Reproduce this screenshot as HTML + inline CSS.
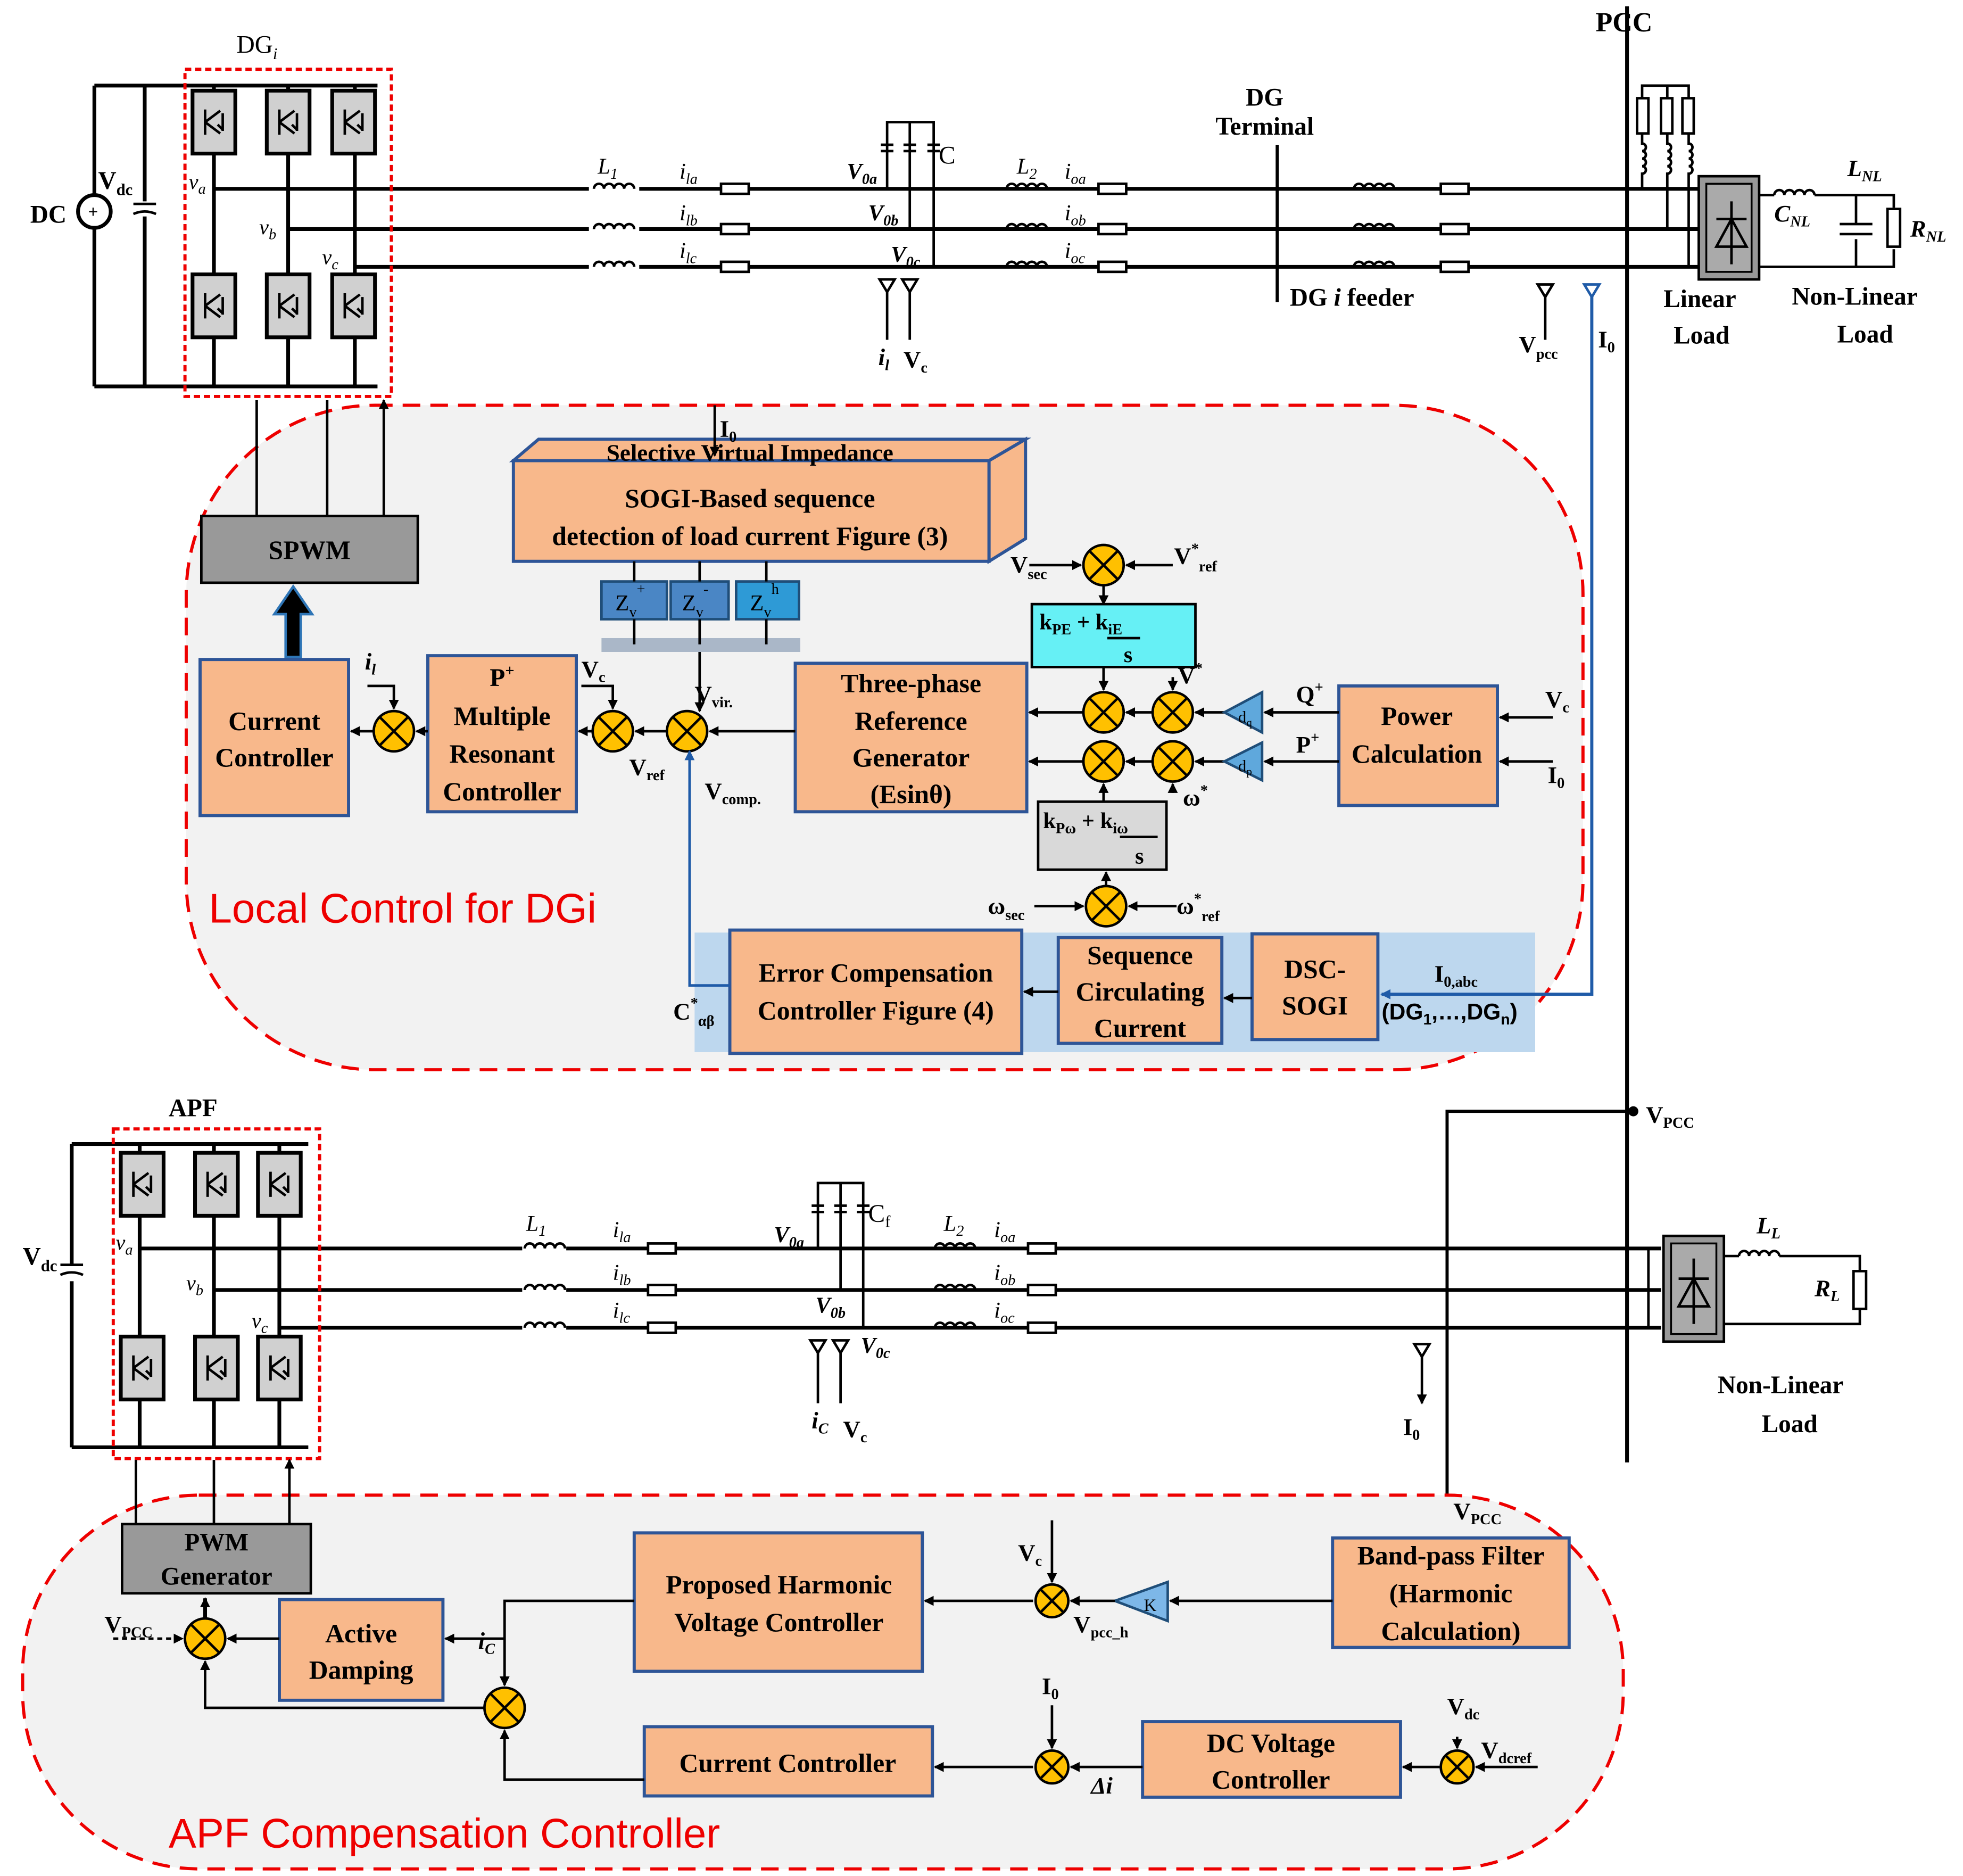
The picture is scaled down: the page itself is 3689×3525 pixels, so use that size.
<!DOCTYPE html>
<html><head><meta charset="utf-8"><style>html,body{margin:0;padding:0;background:#fff}svg{display:block}</style></head><body>
<svg width="3689" height="3525" viewBox="0 0 1560 1490.6" xmlns="http://www.w3.org/2000/svg" font-family="Liberation Serif, serif" font-weight="bold">
<defs>
<marker id="ar" markerWidth="8" markerHeight="8" refX="7" refY="4" orient="auto" markerUnits="userSpaceOnUse"><path d="M0,0 L8,4 L0,8 z" fill="#000"/></marker>
<marker id="arb" markerWidth="8" markerHeight="8" refX="7" refY="4" orient="auto" markerUnits="userSpaceOnUse"><path d="M0,0 L8,4 L0,8 z" fill="#1F5BA8"/></marker>
<g id="sw"><rect x="0" y="0" width="34" height="50" fill="#d0d0d0" stroke="#000" stroke-width="3"/><path d="M10,15 v20 M10,25 l12,-9 M10,25 l12,9 M24,18 v14 M20,27 l4,4" stroke="#000" stroke-width="2" fill="none"/></g>
<g id="ind"><path d="M0,0 a4,4 0 0 1 8,0 a4,4 0 0 1 8,0 a4,4 0 0 1 8,0 a4,4 0 0 1 8,0" fill="none" stroke="#000" stroke-width="2"/></g>
<g id="res"><rect x="0" y="-4" width="22" height="8" fill="#fff" stroke="#000" stroke-width="2"/></g>
<g id="sum"><circle r="16" fill="#FFC000" stroke="#000" stroke-width="2"/><path d="M-11,-11 L11,11 M11,-11 L-11,11" stroke="#000" stroke-width="2"/></g>
<g id="sums"><circle r="13" fill="#FFC000" stroke="#000" stroke-width="2"/><path d="M-9,-9 L9,9 M9,-9 L-9,9" stroke="#000" stroke-width="2"/></g>
<g id="sens"><path d="M-6,0 h12 l-6,10 z" fill="none" stroke="#000" stroke-width="2"/></g>
</defs>

<!-- ===== TOP POWER CIRCUIT ===== -->
<g stroke="#000" stroke-width="3" fill="none">
<path d="M75,68 H300 M75,307 H300 M75,68 V155 M75,181 V307 M115,68 V160 M115,172 V307"/>
<path d="M106,162 h18 M106,170 q9,-4 18,0" stroke-width="2"/>
<path d="M170,68 V307 M229,68 V307 M282,68 V307"/>
<path d="M170,150 H470 M229,182 H470 M282,212 H470"/>
<path d="M505,150 H1350 M505,182 H1350 M505,212 H1350"/>
</g>
<circle cx="75" cy="168" r="13" fill="#fff" stroke="#000" stroke-width="3"/>
<text x="70" y="173" font-size="14">+</text>
<text x="24" y="177" font-size="20">DC</text>
<text x="78" y="150" font-size="20">V<tspan font-size="13" dy="5">dc</tspan></text>
<rect x="147" y="55" width="164" height="260" fill="none" stroke="#e00" stroke-width="2.5" stroke-dasharray="5,3"/>
<text x="188" y="42" font-size="20" font-weight="normal">DG<tspan font-style="italic" font-size="13" dy="5">i</tspan></text>
<use href="#sw" x="153" y="72"/><use href="#sw" x="212" y="72"/><use href="#sw" x="264" y="72"/>
<use href="#sw" x="153" y="218"/><use href="#sw" x="212" y="218"/><use href="#sw" x="264" y="218"/>
<g font-size="17" font-weight="normal" font-style="italic"><text x="150" y="150">v<tspan font-size="12" dy="4">a</tspan></text><text x="206" y="186">v<tspan font-size="12" dy="4">b</tspan></text><text x="256" y="210">v<tspan font-size="12" dy="4">c</tspan></text></g>
<g fill="#fff">
<rect x="468" y="143" width="40" height="12" stroke="none"/><rect x="468" y="175" width="40" height="12" stroke="none"/><rect x="468" y="205" width="40" height="12" stroke="none"/>
</g>
<use href="#ind" x="472" y="150"/><use href="#ind" x="472" y="182"/><use href="#ind" x="472" y="212"/>
<use href="#res" x="573" y="150"/><use href="#res" x="573" y="182"/><use href="#res" x="573" y="212"/>
<use href="#ind" x="800" y="150"/><use href="#ind" x="800" y="182"/><use href="#ind" x="800" y="212"/>
<use href="#res" x="873" y="150"/><use href="#res" x="873" y="182"/><use href="#res" x="873" y="212"/>
<use href="#ind" x="1076" y="150"/><use href="#ind" x="1076" y="182"/><use href="#ind" x="1076" y="212"/>
<use href="#res" x="1145" y="150"/><use href="#res" x="1145" y="182"/><use href="#res" x="1145" y="212"/>
<g font-size="18" font-style="italic" font-weight="normal"><text x="475" y="138">L<tspan font-size="12" dy="4">1</tspan></text><text x="540" y="142">i<tspan font-size="12" dy="4">la</tspan></text><text x="540" y="175">i<tspan font-size="12" dy="4">lb</tspan></text><text x="540" y="205">i<tspan font-size="12" dy="4">lc</tspan></text>
<text x="808" y="138">L<tspan font-size="12" dy="4">2</tspan></text><text x="846" y="142">i<tspan font-size="12" dy="4">oa</tspan></text><text x="846" y="175">i<tspan font-size="12" dy="4">ob</tspan></text><text x="846" y="205">i<tspan font-size="12" dy="4">oc</tspan></text></g>
<g font-size="18" font-style="italic"><text x="673" y="142">V<tspan font-size="12" dy="4">0a</tspan></text><text x="690" y="175">V<tspan font-size="12" dy="4">0b</tspan></text><text x="708" y="208">V<tspan font-size="12" dy="4">0c</tspan></text></g>
<g stroke="#000" stroke-width="2" fill="none"><path d="M705,150 V97 H742 V212 M723,182 V97 M700,115 h10 M700,120 h10 M718,115 h10 M718,120 h10 M737,115 h10 M737,120 h10"/>
<path d="M705,230 V270 M723,230 V270"/></g>
<text x="746" y="130" font-size="20" font-weight="normal">C</text>
<use href="#sens" x="705" y="222"/><use href="#sens" x="723" y="222"/>
<text x="698" y="290" font-size="19" font-style="italic">i<tspan font-size="12" dy="4">l</tspan></text><text x="718" y="292" font-size="19">V<tspan font-size="12" dy="4">c</tspan></text>
<path d="M1015,115 V240" stroke="#000" stroke-width="2.5"/>
<text x="990" y="84" font-size="20">DG</text><text x="966" y="107" font-size="20">Terminal</text>
<text x="1025" y="243" font-size="20">DG <tspan font-style="italic">i</tspan> feeder</text>
<path d="M1293,5 V1162" stroke="#000" stroke-width="3"/>
<text x="1268" y="25" font-size="22">PCC</text>
<use href="#sens" x="1228" y="226"/><path d="M1228,236 V270" stroke="#000" stroke-width="2"/>
<text x="1207" y="280" font-size="19">V<tspan font-size="12" dy="5">pcc</tspan></text>
<path d="M1259,226 h12 l-6,10 z" fill="none" stroke="#1F5BA8" stroke-width="2"/>
<text x="1270" y="276" font-size="19">I<tspan font-size="12" dy="4">0</tspan></text>
<g stroke="#000" stroke-width="2" fill="none">
<rect x="1301" y="78" width="9" height="28" fill="#fff"/><rect x="1320" y="78" width="9" height="28" fill="#fff"/><rect x="1337" y="78" width="9" height="28" fill="#fff"/>
<path d="M1305,78 V68 H1342 V78 M1325,68 V78"/>
<path d="M1305,106 v8 a3,3 0 0 1 0,6 a3,3 0 0 1 0,6 a3,3 0 0 1 0,6 a3,3 0 0 1 0,6 V150"/>
<path d="M1325,106 v8 a3,3 0 0 1 0,6 a3,3 0 0 1 0,6 a3,3 0 0 1 0,6 a3,3 0 0 1 0,6 V182"/>
<path d="M1342,106 v8 a3,3 0 0 1 0,6 a3,3 0 0 1 0,6 a3,3 0 0 1 0,6 a3,3 0 0 1 0,6 V212"/>
</g>
<rect x="1350" y="140" width="48" height="82" fill="#999" stroke="#000" stroke-width="2"/>
<rect x="1356" y="146" width="36" height="70" fill="#aaa" stroke="#000" stroke-width="1.5"/>
<path d="M1364,196 h24 l-12,-22 z M1364,174 h24 M1376,160 v50" fill="none" stroke="#000" stroke-width="2"/>
<g stroke="#000" stroke-width="2" fill="none"><path d="M1398,155 H1410 M1442,155 H1475 M1475,155 V178 M1475,190 V212 H1398 M1462,178 h26 M1462,186 h26 M1475,155 H1505 V165 M1505,198 V212 H1475"/></g>
<use href="#ind" x="1410" y="155"/>
<rect x="1500" y="166" width="10" height="30" fill="#fff" stroke="#000" stroke-width="2"/>
<g font-size="19" font-style="italic"><text x="1468" y="140">L<tspan font-size="12" dy="4">NL</tspan></text><text x="1410" y="176">C<tspan font-size="12" dy="4">NL</tspan></text><text x="1518" y="188">R<tspan font-size="12" dy="4">NL</tspan></text></g>
<text x="1322" y="244" font-size="20">Linear</text><text x="1330" y="273" font-size="20">Load</text>
<text x="1424" y="242" font-size="20">Non-Linear</text><text x="1460" y="272" font-size="20">Load</text>

<!-- ===== LOCAL CONTROL ===== -->
<rect x="148" y="322" width="1110" height="528" rx="150" ry="150" fill="#f2f2f2" stroke="#e00" stroke-width="2.5" stroke-dasharray="14,8"/>
<text x="166" y="733" font-size="33" font-weight="normal" fill="#e00" font-family="Liberation Sans, sans-serif">Local Control for DGi</text>
<rect x="552" y="741" width="668" height="95" fill="#BDD7EE"/>
<path d="M1265,236 V790 H1098" fill="none" stroke="#1F5BA8" stroke-width="2.5" marker-end="url(#arb)"/>
<g stroke="#000" stroke-width="2" fill="none">
<path d="M204,410 V318 M260,410 V318 M305,410 V318" marker-end="url(#ar)"/>
</g>
<rect x="160" y="410" width="172" height="53" fill="#999" stroke="#000" stroke-width="2"/>
<text x="246" y="444" font-size="21" text-anchor="middle">SPWM</text>
<path d="M227,522 V488 H218 L233,466 L248,488 H239 V522 Z" fill="#000" stroke="#2E75B6" stroke-width="2"/>
<g fill="#F8B88B" stroke="#2E5597" stroke-width="2.5">
<rect x="159" y="524" width="118" height="124"/>
<rect x="340" y="521" width="118" height="124"/>
<rect x="632" y="527" width="184" height="118"/>
<rect x="1064" y="545" width="126" height="95"/>
<rect x="580" y="739" width="232" height="98"/>
<rect x="841" y="745" width="130" height="84"/>
<rect x="995" y="742" width="100" height="84"/>
<rect x="408" y="366" width="378" height="80"/>
</g>
<path d="M408,366 L428,349 H815 L786,366 Z" fill="#F8B88B" stroke="#2E5597" stroke-width="2.5"/>
<path d="M786,366 L815,349 V428 L786,446 Z" fill="#F8B88B" stroke="#2E5597" stroke-width="2.5"/>
<g font-size="21" text-anchor="middle">
<text x="218" y="580">Current</text><text x="218" y="609">Controller</text>
<text x="399" y="545" font-size="20">P<tspan font-size="13" dy="-8">+</tspan></text>
<text x="399" y="576">Multiple</text><text x="399" y="606">Resonant</text><text x="399" y="636">Controller</text>
<text x="724" y="550">Three-phase</text><text x="724" y="580">Reference</text><text x="724" y="609">Generator</text><text x="724" y="638">(Esinθ)</text>
<text x="1126" y="576">Power</text><text x="1126" y="606">Calculation</text>
<text x="696" y="780">Error Compensation</text><text x="696" y="810">Controller Figure (4)</text>
<text x="906" y="766">Sequence</text><text x="906" y="795">Circulating</text><text x="906" y="824">Current</text>
<text x="1045" y="777">DSC-</text><text x="1045" y="806">SOGI</text>
<text x="596" y="366" font-size="19">Selective Virtual Impedance</text>
<text x="596" y="403">SOGI-Based sequence</text><text x="596" y="433">detection of load current Figure (3)</text>
</g>
<path d="M568,322 V362" stroke="#000" stroke-width="2" marker-end="url(#ar)"/>
<text x="572" y="347" font-size="19">I<tspan font-size="12" dy="4">0</tspan></text>
<rect x="478" y="507" width="158" height="11" fill="#aab7c8"/>
<g stroke="#1F4E79" stroke-width="2"><rect x="478" y="462" width="52" height="30" fill="#4A86C5"/><rect x="533" y="462" width="46" height="30" fill="#4A86C5"/><rect x="585" y="462" width="50" height="30" fill="#2E9AD6"/></g>
<g font-size="18" font-weight="normal"><text x="489" y="485">Z<tspan font-size="12" dy="5">v</tspan><tspan font-size="12" dy="-18">+</tspan></text><text x="542" y="485">Z<tspan font-size="12" dy="5">v</tspan><tspan font-size="12" dy="-18">-</tspan></text><text x="596" y="485">Z<tspan font-size="12" dy="5">v</tspan><tspan font-size="12" dy="-18">h</tspan></text></g>
<g stroke="#000" stroke-width="2" fill="none">
<path d="M504,446 V462 M556,446 V462 M609,446 V462 M504,492 V512 M556,492 V512 M609,492 V512"/>
<path d="M556,518 V565" marker-end="url(#ar)"/>
<path d="M632,581 H564" marker-end="url(#ar)"/>
<path d="M530,581 H505" marker-end="url(#ar)"/>
<path d="M471,581 H460" marker-end="url(#ar)"/>
<path d="M340,581 H331" marker-end="url(#ar)"/>
<path d="M297,581 H279" marker-end="url(#ar)"/>
<path d="M292,545 H313 V563" marker-end="url(#ar)"/>
<path d="M462,545 H487 V563" marker-end="url(#ar)"/>
</g>
<use href="#sum" x="313" y="581"/><use href="#sum" x="487" y="581"/><use href="#sum" x="546" y="581"/>
<path d="M580,783 H548 V597" stroke="#1F5BA8" stroke-width="2" fill="none" marker-end="url(#arb)"/>
<g font-size="19"><text x="290" y="532" font-style="italic">i<tspan font-size="12" dy="4">l</tspan></text><text x="462" y="538">V<tspan font-size="12" dy="4">c</tspan></text><text x="552" y="558">V<tspan font-size="12" dy="4">vir.</tspan></text><text x="500" y="616">V<tspan font-size="12" dy="4">ref</tspan></text><text x="560" y="635">V<tspan font-size="12" dy="4">comp.</tspan></text>
<text x="535" y="810">C<tspan font-size="12" dy="-9">*</tspan><tspan font-size="12" dy="14">αβ</tspan></text></g>
<use href="#sum" x="877" y="449"/>
<rect x="820" y="480" width="130" height="50" fill="#66F0F5" stroke="#000" stroke-width="2"/>
<text x="826" y="500" font-size="18">k<tspan font-size="12" dy="4">PE</tspan><tspan dy="-4"> + k</tspan><tspan font-size="12" dy="4">iE</tspan></text>
<path d="M880,507 H906" stroke="#000" stroke-width="2"/><text x="893" y="526" font-size="18">s</text>
<rect x="825" y="637" width="102" height="54" fill="#d9d9d9" stroke="#000" stroke-width="2"/>
<text x="829" y="658" font-size="18">k<tspan font-size="12" dy="4">Pω</tspan><tspan dy="-4"> + k</tspan><tspan font-size="12" dy="4">iω</tspan></text>
<path d="M890,665 H920" stroke="#000" stroke-width="2"/><text x="902" y="686" font-size="18">s</text>
<use href="#sum" x="877" y="566"/><use href="#sum" x="877" y="605"/><use href="#sum" x="932" y="566"/><use href="#sum" x="932" y="605"/><use href="#sum" x="879" y="720"/>
<g stroke="#000" stroke-width="2" fill="none">
<path d="M818,449 H859" marker-end="url(#ar)"/><path d="M932,449 H895" marker-end="url(#ar)"/>
<path d="M877,465 V480" marker-end="url(#ar)"/><path d="M877,530 V548" marker-end="url(#ar)"/>
<path d="M861,566 H818" marker-end="url(#ar)"/><path d="M861,605 H818" marker-end="url(#ar)"/>
<path d="M916,566 H895" marker-end="url(#ar)"/><path d="M916,605 H895" marker-end="url(#ar)"/>
<path d="M877,637 V623" marker-end="url(#ar)"/><path d="M879,704 V693" marker-end="url(#ar)"/>
<path d="M932,538 V548" marker-end="url(#ar)"/><path d="M932,630 V623" marker-end="url(#ar)"/>
<path d="M975,566 H950" marker-end="url(#ar)"/><path d="M975,605 H950" marker-end="url(#ar)"/>
<path d="M1064,566 H1005" marker-end="url(#ar)"/><path d="M1064,605 H1005" marker-end="url(#ar)"/>
<path d="M1234,570 H1192" marker-end="url(#ar)"/><path d="M1234,605 H1192" marker-end="url(#ar)"/>
<path d="M822,720 H861" marker-end="url(#ar)"/><path d="M935,720 H897" marker-end="url(#ar)"/>
<path d="M995,793 H973" marker-end="url(#ar)"/><path d="M841,788 H814" marker-end="url(#ar)"/>
</g>
<path d="M1003,550 L973,566 L1003,582 Z" fill="#5FA8DC" stroke="#1F4E79" stroke-width="2"/>
<path d="M1003,590 L973,605 L1003,620 Z" fill="#5FA8DC" stroke="#1F4E79" stroke-width="2"/>
<text x="984" y="574" font-size="13" font-weight="normal">d<tspan font-size="9" dy="3">q</tspan></text><text x="984" y="613" font-size="13" font-weight="normal">d<tspan font-size="9" dy="3">p</tspan></text>
<g font-size="19">
<text x="803" y="455">V<tspan font-size="12" dy="5">sec</tspan></text><text x="933" y="448">V<tspan font-size="12" dy="-8">*</tspan><tspan font-size="12" dy="14">ref</tspan></text>
<text x="936" y="543">V<tspan font-size="12" dy="-8">*</tspan></text><text x="940" y="640">ω<tspan font-size="12" dy="-8">*</tspan></text>
<text x="1030" y="558">Q<tspan font-size="12" dy="-8">+</tspan></text><text x="1030" y="598">P<tspan font-size="12" dy="-8">+</tspan></text>
<text x="1228" y="562">V<tspan font-size="12" dy="4">c</tspan></text><text x="1230" y="622">I<tspan font-size="12" dy="4">0</tspan></text>
<text x="785" y="726">ω<tspan font-size="12" dy="5">sec</tspan></text><text x="935" y="726">ω<tspan font-size="12" dy="-8">*</tspan><tspan font-size="12" dy="14">ref</tspan></text>
<text x="1140" y="780">I<tspan font-size="12" dy="4">0,abc</tspan></text>
<text x="1098" y="810" font-family="Liberation Sans, sans-serif" font-size="18">(DG<tspan font-size="12" dy="4">1</tspan><tspan dy="-4">,…,DG</tspan><tspan font-size="12" dy="4">n</tspan><tspan dy="-4">)</tspan></text>
</g>

<!-- ===== APF POWER CIRCUIT ===== -->
<g stroke="#000" stroke-width="3" fill="none">
<path d="M57,909 H245 M57,1150 H245 M57,909 V1005 M57,1018 V1150"/>
<path d="M48,1005 h18 M48,1013 q9,-4 18,0" stroke-width="2"/>
<path d="M111,909 V1150 M170,909 V1150 M222,909 V1150"/>
<path d="M111,992 H415 M170,1025 H415 M222,1055 H415"/>
<path d="M450,992 H1320 M450,1025 H1320 M450,1055 H1320"/>
</g>
<rect x="90" y="897" width="164" height="262" fill="none" stroke="#e00" stroke-width="2.5" stroke-dasharray="5,3"/>
<text x="134" y="887" font-size="20">APF</text>
<text x="18" y="1005" font-size="20">V<tspan font-size="13" dy="5">dc</tspan></text>
<use href="#sw" x="96" y="916"/><use href="#sw" x="155" y="916"/><use href="#sw" x="205" y="916"/>
<use href="#sw" x="96" y="1062"/><use href="#sw" x="155" y="1062"/><use href="#sw" x="205" y="1062"/>
<g font-size="17" font-weight="normal" font-style="italic"><text x="92" y="993">v<tspan font-size="12" dy="4">a</tspan></text><text x="148" y="1025">v<tspan font-size="12" dy="4">b</tspan></text><text x="200" y="1055">v<tspan font-size="12" dy="4">c</tspan></text></g>
<use href="#ind" x="417" y="992"/><use href="#ind" x="417" y="1025"/><use href="#ind" x="417" y="1055"/>
<use href="#res" x="515" y="992"/><use href="#res" x="515" y="1025"/><use href="#res" x="515" y="1055"/>
<use href="#ind" x="743" y="992"/><use href="#ind" x="743" y="1025"/><use href="#ind" x="743" y="1055"/>
<use href="#res" x="817" y="992"/><use href="#res" x="817" y="1025"/><use href="#res" x="817" y="1055"/>
<g font-size="18" font-style="italic" font-weight="normal"><text x="418" y="978">L<tspan font-size="12" dy="4">1</tspan></text><text x="487" y="983">i<tspan font-size="12" dy="4">la</tspan></text><text x="487" y="1017">i<tspan font-size="12" dy="4">lb</tspan></text><text x="487" y="1047">i<tspan font-size="12" dy="4">lc</tspan></text>
<text x="750" y="978">L<tspan font-size="12" dy="4">2</tspan></text><text x="790" y="983">i<tspan font-size="12" dy="4">oa</tspan></text><text x="790" y="1017">i<tspan font-size="12" dy="4">ob</tspan></text><text x="790" y="1047">i<tspan font-size="12" dy="4">oc</tspan></text></g>
<g font-size="18" font-style="italic"><text x="615" y="987">V<tspan font-size="12" dy="4">0a</tspan></text><text x="648" y="1043">V<tspan font-size="12" dy="4">0b</tspan></text><text x="684" y="1075">V<tspan font-size="12" dy="4">0c</tspan></text></g>
<g stroke="#000" stroke-width="2" fill="none"><path d="M650,992 V940 H686 V1055 M668,1025 V940 M645,958 h10 M645,963 h10 M663,958 h10 M663,963 h10 M681,958 h10 M681,963 h10"/>
<path d="M650,1075 V1115 M668,1075 V1115"/></g>
<text x="690" y="971" font-size="20" font-weight="normal">C<tspan font-size="13" dy="4">f</tspan></text>
<use href="#sens" x="650" y="1065"/><use href="#sens" x="668" y="1065"/>
<text x="645" y="1135" font-size="19" font-style="italic">i<tspan font-size="12" dy="4">C</tspan></text><text x="670" y="1142" font-size="19">V<tspan font-size="12" dy="4">c</tspan></text>
<use href="#sens" x="1130" y="1068"/><path d="M1130,1078 V1115" stroke="#000" stroke-width="2" marker-end="url(#ar)"/>
<text x="1115" y="1140" font-size="19">I<tspan font-size="12" dy="4">0</tspan></text>
<path d="M1310,992 V1055" stroke="#000" stroke-width="2"/>
<rect x="1322" y="982" width="48" height="84" fill="#999" stroke="#000" stroke-width="2"/>
<rect x="1328" y="988" width="36" height="72" fill="#aaa" stroke="#000" stroke-width="1.5"/>
<path d="M1334,1038 h24 l-12,-22 z M1334,1016 h24 M1346,1000 v52" fill="none" stroke="#000" stroke-width="2"/>
<g stroke="#000" stroke-width="2" fill="none"><path d="M1370,998 H1382 M1414,998 H1478 V1010 M1478,1040 V1052 H1370"/></g>
<use href="#ind" x="1382" y="998"/>
<rect x="1473" y="1010" width="10" height="30" fill="#fff" stroke="#000" stroke-width="2"/>
<g font-size="19" font-style="italic"><text x="1396" y="980">L<tspan font-size="12" dy="4">L</tspan></text><text x="1442" y="1030">R<tspan font-size="12" dy="4">L</tspan></text></g>
<text x="1365" y="1107" font-size="20">Non-Linear</text><text x="1400" y="1138" font-size="20">Load</text>
<circle cx="1298" cy="883" r="4" fill="#000"/>
<path d="M1298,883 H1150 V1218" stroke="#000" stroke-width="2.5" fill="none" marker-end="url(#ar)"/>
<text x="1308" y="892" font-size="19">V<tspan font-size="12" dy="4">PCC</tspan></text>

<!-- ===== APF CONTROL ===== -->
<rect x="18" y="1188" width="1272" height="297" rx="140" ry="140" fill="#f2f2f2" stroke="#e00" stroke-width="2.5" stroke-dasharray="14,8"/>
<text x="134" y="1468" font-size="33" font-weight="normal" fill="#e00" font-family="Liberation Sans, sans-serif">APF Compensation Controller</text>
<g stroke="#000" stroke-width="2" fill="none"><path d="M108,1211 V1160 M170,1211 V1160 M230,1211 V1160" marker-end="url(#ar)"/></g>
<rect x="97" y="1211" width="150" height="55" fill="#999" stroke="#000" stroke-width="2"/>
<text x="172" y="1232" font-size="20" text-anchor="middle">PWM</text><text x="172" y="1259" font-size="20" text-anchor="middle">Generator</text>
<g fill="#F8B88B" stroke="#2E5597" stroke-width="2.5">
<rect x="222" y="1271" width="130" height="80"/>
<rect x="504" y="1218" width="229" height="110"/>
<rect x="512" y="1372" width="229" height="55"/>
<rect x="1059" y="1222" width="188" height="87"/>
<rect x="908" y="1368" width="205" height="60"/>
</g>
<g font-size="21" text-anchor="middle">
<text x="287" y="1305">Active</text><text x="287" y="1334">Damping</text>
<text x="619" y="1266">Proposed Harmonic</text><text x="619" y="1296">Voltage Controller</text>
<text x="626" y="1408">Current Controller</text>
<text x="1153" y="1243">Band-pass Filter</text><text x="1153" y="1273">(Harmonic</text><text x="1153" y="1303">Calculation)</text>
<text x="1010" y="1392">DC Voltage</text><text x="1010" y="1421">Controller</text>
</g>
<use href="#sum" x="163" y="1302"/><use href="#sum" x="401" y="1357"/>
<use href="#sums" x="836" y="1272"/><use href="#sums" x="836" y="1404"/><use href="#sums" x="1158" y="1404"/>
<path d="M928,1257 L886,1272 L928,1288 Z" fill="#7DB7E8" stroke="#1F4E79" stroke-width="2"/>
<text x="909" y="1280" font-size="14" font-weight="normal">K</text>
<g stroke="#000" stroke-width="2" fill="none">
<path d="M1059,1272 H930" marker-end="url(#ar)"/><path d="M886,1272 H851" marker-end="url(#ar)"/>
<path d="M836,1208 V1257" marker-end="url(#ar)"/><path d="M821,1272 H735" marker-end="url(#ar)"/>
<path d="M504,1272 H401 V1339" marker-end="url(#ar)"/>
<path d="M512,1414 H401 V1375" marker-end="url(#ar)"/>
<path d="M385,1357 H163 V1320" marker-end="url(#ar)"/>
<path d="M222,1302 H181" marker-end="url(#ar)"/>
<path d="M401,1302 H354" marker-end="url(#ar)"/>
<path d="M1222,1404 H1173" marker-end="url(#ar)"/><path d="M1158,1380 V1389" marker-end="url(#ar)"/>
<path d="M1145,1404 H1115" marker-end="url(#ar)"/>
<path d="M908,1404 H851" marker-end="url(#ar)"/><path d="M836,1355 V1389" marker-end="url(#ar)"/>
<path d="M821,1404 H743" marker-end="url(#ar)"/>
</g>
<path d="M163,1286 V1270" stroke="#000" stroke-width="3" marker-end="url(#ar)"/>
<path d="M90,1302 H145" stroke="#000" stroke-width="2" stroke-dasharray="4,3" marker-end="url(#ar)"/>
<g font-size="19">
<text x="83" y="1297">V<tspan font-size="12" dy="4">PCC</tspan></text>
<text x="380" y="1310" font-style="italic">i<tspan font-size="12" dy="4">C</tspan></text>
<text x="809" y="1240">V<tspan font-size="12" dy="4">c</tspan></text><text x="853" y="1297">V<tspan font-size="12" dy="4">pcc_h</tspan></text>
<text x="1155" y="1207">V<tspan font-size="12" dy="4">PCC</tspan></text>
<text x="828" y="1346">I<tspan font-size="12" dy="4">0</tspan></text><text x="867" y="1425" font-style="italic">Δi</text>
<text x="1150" y="1362">V<tspan font-size="12" dy="4">dc</tspan></text><text x="1177" y="1397">V<tspan font-size="12" dy="4">dcref</tspan></text>
</g>
</svg>
</body></html>
